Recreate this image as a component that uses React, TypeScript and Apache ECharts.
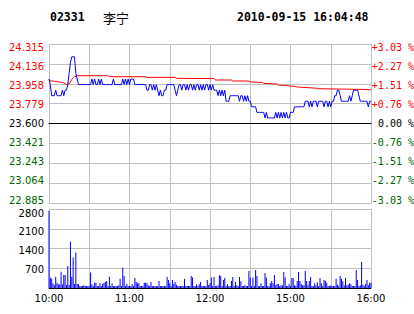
import React, { useEffect, useRef } from 'react';
import * as echarts from 'echarts';

const CODE = '02331';
const NAME = '李宁';
const STAMP = '2010-09-15 16:04:48';
const PREV_CLOSE = 23.6;
const STEP = 0.17875;

// bottom -> top
const PRICE_LABELS = ['22.885', '23.064', '23.243', '23.421', '23.600', '23.779', '23.958', '24.136', '24.315'];
const PCT_LABELS = ['-3.03 %', '-2.27 %', '-1.51 %', '-0.76 %', '0.00 %', '+0.76 %', '+1.51 %', '+2.27 %', '+3.03 %'];
const VOL_LABELS = ['', '700', '1400', '2100', '2800'];
const TIME_LABELS: Record<number, string> = { 0: '10:00', 60: '11:00', 120: '12:00', 180: '15:00', 240: '16:00' };

// one price per trading minute (10:00-12:30, 14:30-16:00)
const PRICES = [
  24.00, 23.95, 23.85, 23.85, 23.85, 23.90, 23.85, 23.85, 23.85, 23.85,
  23.90, 23.85, 23.90, 23.90, 23.95, 24.05, 24.15, 24.20, 24.20, 24.20,
  24.05, 24.00, 23.95, 23.95, 23.95, 23.95, 23.95, 23.95, 23.95, 23.95,
  23.95, 23.95, 24.00, 23.95, 24.00, 23.95, 23.95, 24.00, 23.95, 24.00,
  23.95, 23.95, 23.95, 23.95, 23.95, 23.95, 23.95, 23.95, 24.00, 23.95,
  23.95, 23.95, 23.95, 23.95, 23.95, 24.00, 23.95, 24.00, 23.95, 24.00,
  23.95, 24.00, 24.00, 24.00, 23.95, 23.95, 23.95, 23.95, 23.95, 23.95,
  23.95, 23.95, 23.95, 23.90, 23.90, 23.95, 23.95, 23.90, 23.95, 23.90,
  23.95, 23.90, 23.85, 23.90, 23.85, 23.85, 23.90, 23.90, 23.95, 23.95,
  23.95, 23.95, 23.95, 23.95, 23.90, 23.85, 23.90, 23.95, 23.95, 23.90,
  23.95, 23.95, 23.90, 23.95, 23.90, 23.95, 23.95, 23.90, 23.95, 23.90,
  23.95, 23.95, 23.90, 23.95, 23.90, 23.95, 23.90, 23.95, 23.95, 23.90,
  23.95, 23.90, 23.95, 23.90, 23.90, 23.90, 23.85, 23.90, 23.85, 23.90,
  23.85, 23.90, 23.80, 23.80, 23.80, 23.85, 23.85, 23.85, 23.85, 23.85,
  23.85, 23.85, 23.80, 23.85, 23.85, 23.80, 23.85, 23.80, 23.85, 23.80,
  23.80, 23.75, 23.75, 23.75, 23.75, 23.70, 23.70, 23.70, 23.70, 23.70,
  23.70, 23.65, 23.70, 23.65, 23.65, 23.65, 23.65, 23.65, 23.65, 23.70,
  23.65, 23.70, 23.65, 23.70, 23.65, 23.70, 23.65, 23.70, 23.65, 23.65,
  23.70, 23.70, 23.70, 23.75, 23.75, 23.75, 23.75, 23.75, 23.75, 23.75,
  23.75, 23.80, 23.80, 23.80, 23.75, 23.80, 23.75, 23.80, 23.80, 23.80,
  23.75, 23.80, 23.80, 23.80, 23.80, 23.75, 23.80, 23.80, 23.75, 23.80,
  23.75, 23.80, 23.80, 23.85, 23.85, 23.90, 23.90, 23.85, 23.80, 23.80,
  23.80, 23.80, 23.80, 23.80, 23.85, 23.80, 23.85, 23.90, 23.90, 23.90,
  23.90, 23.85, 23.80, 23.80, 23.80, 23.80, 23.80, 23.80, 23.75, 23.80,
  23.80,
];

// average price line [minute, price]
const AVG: [number, number][] = [
  [0, 24.0], [1, 23.985], [4, 23.98], [8, 23.973], [11, 23.965], [13, 23.95], [15, 23.955],
  [17, 23.997], [19, 24.022], [21, 24.03], [44, 24.03], [45, 24.021], [72, 24.021],
  [73, 24.015], [94, 24.015], [95, 24.006], [123, 24.004], [124, 23.991], [136, 23.991],
  [137, 23.982], [149, 23.982], [150, 23.973], [159, 23.97], [160, 23.961], [170, 23.955],
  [171, 23.946], [178, 23.942], [179, 23.937], [184, 23.933], [185, 23.928], [199, 23.918],
  [200, 23.913], [231, 23.907], [240, 23.904],
];

const VOLUMES = [
  2740, 370, 330, 165, 95, 400, 190, 120, 130, 580,
  120, 460, 460, 107, 780, 107, 1640, 400, 1080, 140,
  1260, 142, 140, 71, 71, 71, 95, 71, 71, 71,
  71, 546, 130, 71, 190, 190, 71, 71, 166, 71,
  142, 190, 213, 249, 71, 403, 71, 166, 71, 71,
  71, 71, 95, 332, 71, 723, 427, 71, 142, 71,
  71, 71, 142, 71, 356, 213, 166, 166, 71, 71,
  71, 190, 190, 166, 95, 71, 213, 71, 71, 71,
  71, 71, 249, 71, 71, 71, 71, 71, 403, 285,
  166, 71, 285, 142, 213, 119, 71, 71, 71, 71,
  71, 332, 71, 71, 71, 71, 427, 368, 71, 71,
  130, 71, 130, 213, 71, 71, 71, 71, 285, 107,
  166, 370, 71, 391, 71, 71, 95, 450, 427, 71,
  285, 356, 71, 130, 71, 71, 249, 391, 71, 213,
  95, 71, 391, 237, 71, 71, 95, 71, 71, 605,
  368, 71, 368, 71, 640, 427, 71, 71, 166, 71,
  71, 534, 368, 71, 71, 166, 249, 166, 463, 95,
  142, 142, 71, 95, 95, 570, 368, 71, 71, 142,
  71, 356, 356, 95, 71, 249, 570, 249, 142, 95,
  95, 605, 249, 95, 249, 391, 71, 71, 166, 95,
  202, 71, 356, 166, 71, 285, 261, 190, 71, 71,
  95, 71, 71, 71, 332, 119, 71, 427, 332, 237,
  95, 356, 95, 119, 166, 130, 71, 71, 71, 640,
  285, 71, 95, 925, 119, 71, 154, 285, 95, 190,
  190,
];

const GRID = '#c0c0c0';
const RED = '#ff0000';
const GREEN = '#006600';

function priceColor(i: number) {
  return i > 4 ? RED : i < 4 ? GREEN : '#000000';
}
function shiftPad(dy: number) {
  return dy >= 0 ? [2 * dy, 0, 0, 0] : [0, 0, -2 * dy, 0];
}

export default function App() {
  const ref = useRef<HTMLDivElement>(null);
  useEffect(() => {
    if (!ref.current) return;
    const chart = echarts.init(ref.current, null, { renderer: 'svg' });
    const idx = (v: number) => Math.round((v + 4 * STEP) / STEP);
    const richP: Record<string, any> = {};
    const richQ: Record<string, any> = {};
    for (let i = 0; i < 9; i++) {
      const dy = 3.7 - 0.835 * (8 - i);
      richP['p' + i] = { fontSize: 10, fontFamily: 'DejaVu Sans', color: priceColor(i), padding: shiftPad(dy) };
      richQ['q' + i] = { fontSize: 10, fontFamily: 'DejaVu Sans Mono', color: priceColor(i), padding: shiftPad(dy) };
    }
    const richV: Record<string, any> = {};
    const volDy = [0, 1.2, 2.4, 3.2, 4];
    for (let i = 0; i < 5; i++) {
      richV['v' + i] = { fontSize: 10, fontFamily: 'DejaVu Sans', color: '#000', padding: shiftPad(volDy[i]) };
    }

    const option: any = {
      animation: false,
      backgroundColor: '#ffffff',
      graphic: [
        { type: 'text', x: 50, y: 17, style: { text: CODE, fill: '#000', font: 'bold 11.5px "DejaVu Sans Mono"', verticalAlign: 'middle' } },
        { type: 'text', x: 103, y: 17, style: { text: NAME, fill: '#000', font: '13px "Noto Sans CJK SC"', verticalAlign: 'middle' } },
        { type: 'text', x: 237, y: 17, style: { text: STAMP, fill: '#000', font: 'bold 11.5px "DejaVu Sans Mono"', verticalAlign: 'middle' } },
      ],
      grid: [
        { left: 49, top: 44, width: 322, height: 159, containLabel: false, outerBoundsMode: 'none' },
        { left: 49, top: 209, width: 322, height: 79, containLabel: false, outerBoundsMode: 'none' },
      ],
      xAxis: [
        {
          type: 'value', gridIndex: 0, min: 0, max: 240, interval: 30,
          axisLine: { show: true, lineStyle: { color: '#000', width: 1 } },
          axisTick: { show: false }, axisLabel: { show: false },
          splitLine: { show: true, lineStyle: { color: GRID, width: 1 } },
        },
        {
          type: 'value', gridIndex: 1, min: 0, max: 240, interval: 30,
          axisLine: { show: true, lineStyle: { color: '#000', width: 1 } },
          axisTick: { show: false },
          axisLabel: {
            show: true, margin: 5, color: '#000', fontSize: 10, fontFamily: 'DejaVu Sans',
            formatter: (v: number) => TIME_LABELS[Math.round(v)] ?? '',
          },
          splitLine: { show: true, lineStyle: { color: GRID, width: 1 } },
        },
      ],
      yAxis: [
        {
          type: 'value', gridIndex: 0, position: 'left', min: -4 * STEP, max: 4 * STEP, interval: STEP,
          axisLine: { show: true, lineStyle: { color: GRID, width: 1 } },
          axisTick: { show: false },
          axisLabel: {
            show: true, margin: 5, align: 'right',
            formatter: (v: number) => { const i = idx(v); return `{p${i}|${PRICE_LABELS[i]}}`; },
            rich: richP,
          },
          splitLine: { show: true, lineStyle: { color: GRID, width: 1 } },
        },
        {
          type: 'value', gridIndex: 0, position: 'right', min: -4 * STEP, max: 4 * STEP, interval: STEP,
          axisLine: { show: true, lineStyle: { color: GRID, width: 1 } },
          axisTick: { show: false },
          axisLabel: {
            show: true, margin: 43, align: 'right',
            formatter: (v: number) => { const i = idx(v); return `{q${i}|${PCT_LABELS[i]}}`; },
            rich: richQ,
          },
          splitLine: { show: false },
        },
        {
          type: 'value', gridIndex: 1, position: 'left', min: 0, max: 2800, interval: 700,
          axisLine: { show: true, lineStyle: { color: GRID, width: 1 } },
          axisTick: { show: false },
          axisLabel: {
            show: true, margin: 5, align: 'right',
            formatter: (v: number) => { const i = Math.round(v / 700); return i === 0 ? '' : `{v${i}|${VOL_LABELS[i]}}`; },
            rich: richV,
          },
          splitLine: { show: true, lineStyle: { color: GRID, width: 1 } },
        },
      ],
      series: [
        {
          type: 'line', xAxisIndex: 0, yAxisIndex: 0, symbol: 'none', silent: true,
          data: AVG.map(([m, p]) => [m, p - PREV_CLOSE]),
          lineStyle: { color: RED, width: 1 }, itemStyle: { color: RED }, z: 3,
        },
        {
          type: 'line', xAxisIndex: 0, yAxisIndex: 0, symbol: 'none', silent: true,
          data: PRICES.map((p, i) => [i, p - PREV_CLOSE]),
          lineStyle: { color: '#0000ff', width: 1 }, itemStyle: { color: '#0000ff' }, z: 4,
          markLine: {
            silent: true, symbol: ['none', 'none'], label: { show: false },
            lineStyle: { color: '#000', width: 1, type: 'solid' },
            data: [{ yAxis: 0 }],
          },
        },
        {
          type: 'bar', xAxisIndex: 1, yAxisIndex: 2, silent: true, barWidth: 1,
          data: VOLUMES.map((v, i) => [i, v]),
          itemStyle: { color: '#0000ff' },
        },
      ],
    };
    chart.setOption(option);
    return () => chart.dispose();
  }, []);
  return <div ref={ref} style={{ position: 'fixed', left: 0, top: 0, width: 414, height: 314, background: '#fff' }} />;
}
